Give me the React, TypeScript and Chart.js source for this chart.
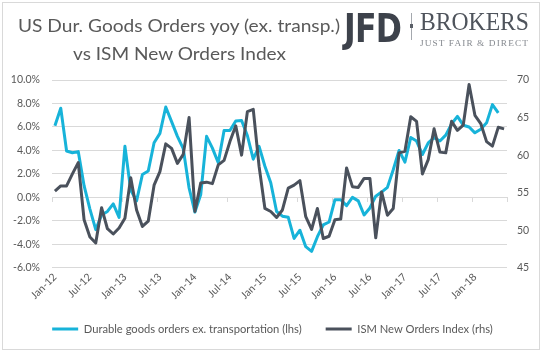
import React, { useEffect, useLayoutEffect, useRef } from 'react';
import { Chart, registerables } from 'chart.js';

Chart.register(...registerables);

const CATEGORIES = [
  'Jan-12', 'Feb-12', 'Mar-12', 'Apr-12', 'May-12', 'Jun-12', 'Jul-12', 'Aug-12', 'Sep-12', 'Oct-12', 'Nov-12', 'Dec-12',
  'Jan-13', 'Feb-13', 'Mar-13', 'Apr-13', 'May-13', 'Jun-13', 'Jul-13', 'Aug-13', 'Sep-13', 'Oct-13', 'Nov-13', 'Dec-13',
  'Jan-14', 'Feb-14', 'Mar-14', 'Apr-14', 'May-14', 'Jun-14', 'Jul-14', 'Aug-14', 'Sep-14', 'Oct-14', 'Nov-14', 'Dec-14',
  'Jan-15', 'Feb-15', 'Mar-15', 'Apr-15', 'May-15', 'Jun-15', 'Jul-15', 'Aug-15', 'Sep-15', 'Oct-15', 'Nov-15', 'Dec-15',
  'Jan-16', 'Feb-16', 'Mar-16', 'Apr-16', 'May-16', 'Jun-16', 'Jul-16', 'Aug-16', 'Sep-16', 'Oct-16', 'Nov-16', 'Dec-16',
  'Jan-17', 'Feb-17', 'Mar-17', 'Apr-17', 'May-17', 'Jun-17', 'Jul-17', 'Aug-17', 'Sep-17', 'Oct-17', 'Nov-17', 'Dec-17',
  'Jan-18', 'Feb-18', 'Mar-18', 'Apr-18', 'May-18', 'Jun-18',
];

// Durable goods orders ex. transportation, yoy % (left axis)
const DURABLE_GOODS = [
  6.1, 7.6, 3.95, 3.8, 3.9, 1.0, -1.0, -2.75, -1.5, -1.2, -0.55, -1.7,
  4.35, 0.6, -0.3, 1.95, 2.25, 4.65, 5.45, 7.7, 6.45, 5.2, 4.15, 0.8,
  -1.25, 0.25, 5.2, 4.2, 2.95, 5.7, 5.7, 6.5, 6.55, 5.25, 3.25, 4.35,
  2.65, 1.25, -1.2, -1.6, -1.7, -3.5, -2.8, -4.2, -4.6, -3.35, -2.35, -2.1,
  -0.2, -0.2, -0.7, 0.0, -0.3, -1.5, -0.9, 0.1, 0.45, 0.85, 2.35, 4.0,
  3.0, 5.1, 4.8, 3.65, 4.65, 5.1, 4.8, 5.3, 6.25, 6.9, 6.15, 6.0,
  5.5, 5.8, 6.35, 7.9, 7.2,
];

// ISM New Orders Index (right axis)
const ISM_NEW_ORDERS = [
  55.2, 55.9, 55.9, 57.5, 59.0, 51.4, 49.1, 48.3, 53.0, 50.2, 49.5, 50.3,
  51.6, 57.0, 52.7, 50.5, 51.2, 56.0, 57.8, 61.5, 60.9, 58.9, 60.1, 65.0,
  52.5, 56.3, 56.4, 56.2, 58.7, 59.3, 61.8, 63.9, 60.0, 65.8, 66.1, 58.5,
  52.9, 52.5, 51.7, 52.7, 55.6, 56.0, 56.6, 51.8, 50.1, 52.9, 48.9, 49.2,
  51.4, 51.5, 58.3, 55.8, 55.7, 56.9, 56.9, 49.0, 55.1, 52.0, 52.9, 60.3,
  60.5, 65.1, 64.5, 57.5, 59.4, 63.5, 60.4, 60.3, 64.5, 63.3, 64.0, 69.4,
  65.3, 64.2, 61.8, 61.2, 63.7, 63.5,
];

const SERIES_NAMES = ['Durable goods orders ex. transportation (lhs)', 'ISM New Orders Index (rhs)'];
const LABEL_EVERY = 6;

const CYAN = '#17b3d9';
const GREY = '#4a515c';
const TEXT = '#595959';
const GRID = '#d9d9d9';
const FONT = 'Lato';

function Fit({ text, width, style }: { text: string; width: number; style: React.CSSProperties }) {
  const ref = useRef<HTMLSpanElement>(null);
  useLayoutEffect(() => {
    const el = ref.current;
    if (!el) return;
    el.style.transform = 'none';
    const w = el.getBoundingClientRect().width;
    if (w > 0) el.style.transform = `scaleX(${width / w})`;
  }, [text, width]);
  return (
    <span ref={ref} style={{ display: 'inline-block', whiteSpace: 'nowrap', transformOrigin: '0 0', ...style }}>
      {text}
    </span>
  );
}

const zeroTicks = {
  id: 'zeroTicks',
  beforeDatasetsDraw(chart: any) {
    const x = chart.scales.x;
    const y = chart.scales.y;
    const ctx = chart.ctx;
    const y0 = Math.round(y.getPixelForValue(0));
    const step = x.getPixelForValue(1) - x.getPixelForValue(0);
    ctx.save();
    ctx.strokeStyle = GRID;
    ctx.lineWidth = 1;
    ctx.beginPath();
    for (let i = 0; i <= CATEGORIES.length; i += LABEL_EVERY) {
      const px = Math.round(x.getPixelForValue(Math.min(i, CATEGORIES.length - 1)) + (i < CATEGORIES.length ? -step / 2 : step / 2)) + 0.5;
      ctx.moveTo(px, y0);
      ctx.lineTo(px, y0 + 5);
    }
    ctx.stroke();
    ctx.restore();
  },
};

export default function App() {
  const canvasRef = useRef<HTMLCanvasElement>(null);

  useEffect(() => {
    if (!canvasRef.current) return;
    const chart = new Chart(canvasRef.current, {
      type: 'line',
      data: {
        labels: CATEGORIES,
        datasets: [
          {
            label: SERIES_NAMES[0],
            data: DURABLE_GOODS,
            yAxisID: 'y',
            borderColor: CYAN,
            backgroundColor: CYAN,
            borderWidth: 3,
            pointRadius: 0,
            tension: 0,
            borderJoinStyle: 'round',
            order: 2,
          },
          {
            label: SERIES_NAMES[1],
            data: ISM_NEW_ORDERS,
            yAxisID: 'y1',
            borderColor: GREY,
            backgroundColor: GREY,
            borderWidth: 3,
            pointRadius: 0,
            tension: 0,
            borderJoinStyle: 'round',
            order: 1,
          },
        ],
      },
      options: {
        animation: false,
        responsive: false,
        events: [],
        layout: { padding: { left: 8, right: 6, top: 80, bottom: 6.5 } },
        plugins: {
          tooltip: { enabled: false },
          title: { display: false },
          legend: {
            position: 'bottom',
            labels: {
              usePointStyle: true,
              pointStyle: 'line',
              pointStyleWidth: 26,
              padding: 24,
              color: TEXT,
              font: { family: FONT, size: 11.2 },
              sort: (a: any, b: any) => a.datasetIndex - b.datasetIndex,
            },
          },
        },
        scales: {
          x: {
            type: 'category',
            offset: true,
            grid: { display: false, drawTicks: false },
            border: { display: false },
            ticks: {
              autoSkip: false,
              maxRotation: 45,
              minRotation: 45,
              padding: 3,
              color: TEXT,
              font: { family: FONT, size: 10.5 },
              callback: (_v: any, i: number) => (i % LABEL_EVERY === 0 ? CATEGORIES[i] : ''),
            },
            afterFit: (s: any) => {
              s.height = 31.5;
            },
          },
          y: {
            position: 'left',
            min: -6,
            max: 10,
            grid: { color: GRID, drawTicks: false },
            border: { display: false },
            ticks: {
              stepSize: 2,
              padding: 12,
              color: TEXT,
              font: { family: FONT, size: 10.5 },
              callback: (v: any) => `${Number(v).toFixed(1)}%`,
            },
            afterFit: (s: any) => {
              s.width = 44;
            },
          },
          y1: {
            position: 'right',
            min: 45,
            max: 70,
            grid: { display: false, drawTicks: false },
            border: { display: false },
            ticks: {
              stepSize: 5,
              padding: 10,
              color: TEXT,
              font: { family: FONT, size: 10.5 },
            },
            afterFit: (s: any) => {
              s.width = 30;
            },
          },
        },
      },
      plugins: [zeroTicks],
    } as any);
    return () => chart.destroy();
  }, []);

  return (
    <div style={{ position: 'absolute', left: 0, top: 0, width: 543, height: 351, background: '#fff', overflow: 'hidden' }}>
      <canvas ref={canvasRef} width={543} height={351} style={{ position: 'absolute', left: 0, top: 0, width: 543, height: 351 }} />
      <div style={{ position: 'absolute', left: 2, top: 2, width: 538, height: 348, boxSizing: 'border-box', border: `1px solid ${GRID}`, pointerEvents: 'none' }} />
      <div style={{ position: 'absolute', left: 18, top: 16 }}>
        <Fit text="US Dur. Goods Orders yoy (ex. transp.)" width={322} style={{ fontFamily: FONT, fontSize: 17.5, lineHeight: '20px', color: TEXT }} />
      </div>
      <div style={{ position: 'absolute', left: 73, top: 43.8 }}>
        <Fit text="vs ISM New Orders Index" width={213} style={{ fontFamily: FONT, fontSize: 17.5, lineHeight: '20px', color: TEXT }} />
      </div>
      <div style={{ position: 'absolute', left: 344, top: 8.5 }}>
        <Fit text="JFD" width={57} style={{ fontFamily: 'DejaVu Sans', fontWeight: 'bold', fontSize: 39, lineHeight: '39px', color: '#3d424b', letterSpacing: -1 }} />
      </div>
      <div style={{ position: 'absolute', left: 411, top: 13, width: 1, height: 27, background: '#a4a8ae' }} />
      <div style={{ position: 'absolute', left: 410, top: 24, width: 3, height: 4, background: '#5a5f67' }} />
      <div style={{ position: 'absolute', left: 420, top: 9.4 }}>
        <Fit text="BROKERS" width={109} style={{ fontFamily: 'Liberation Serif', fontSize: 26, lineHeight: '26px', color: '#4f545c' }} />
      </div>
      <div style={{ position: 'absolute', left: 420, top: 32.4 }}>
        <Fit text="JUST FAIR & DIRECT" width={109} style={{ fontFamily: 'Liberation Serif', fontSize: 8.5, lineHeight: '9px', color: '#85898f', letterSpacing: 1 }} />
      </div>
    </div>
  );
}
